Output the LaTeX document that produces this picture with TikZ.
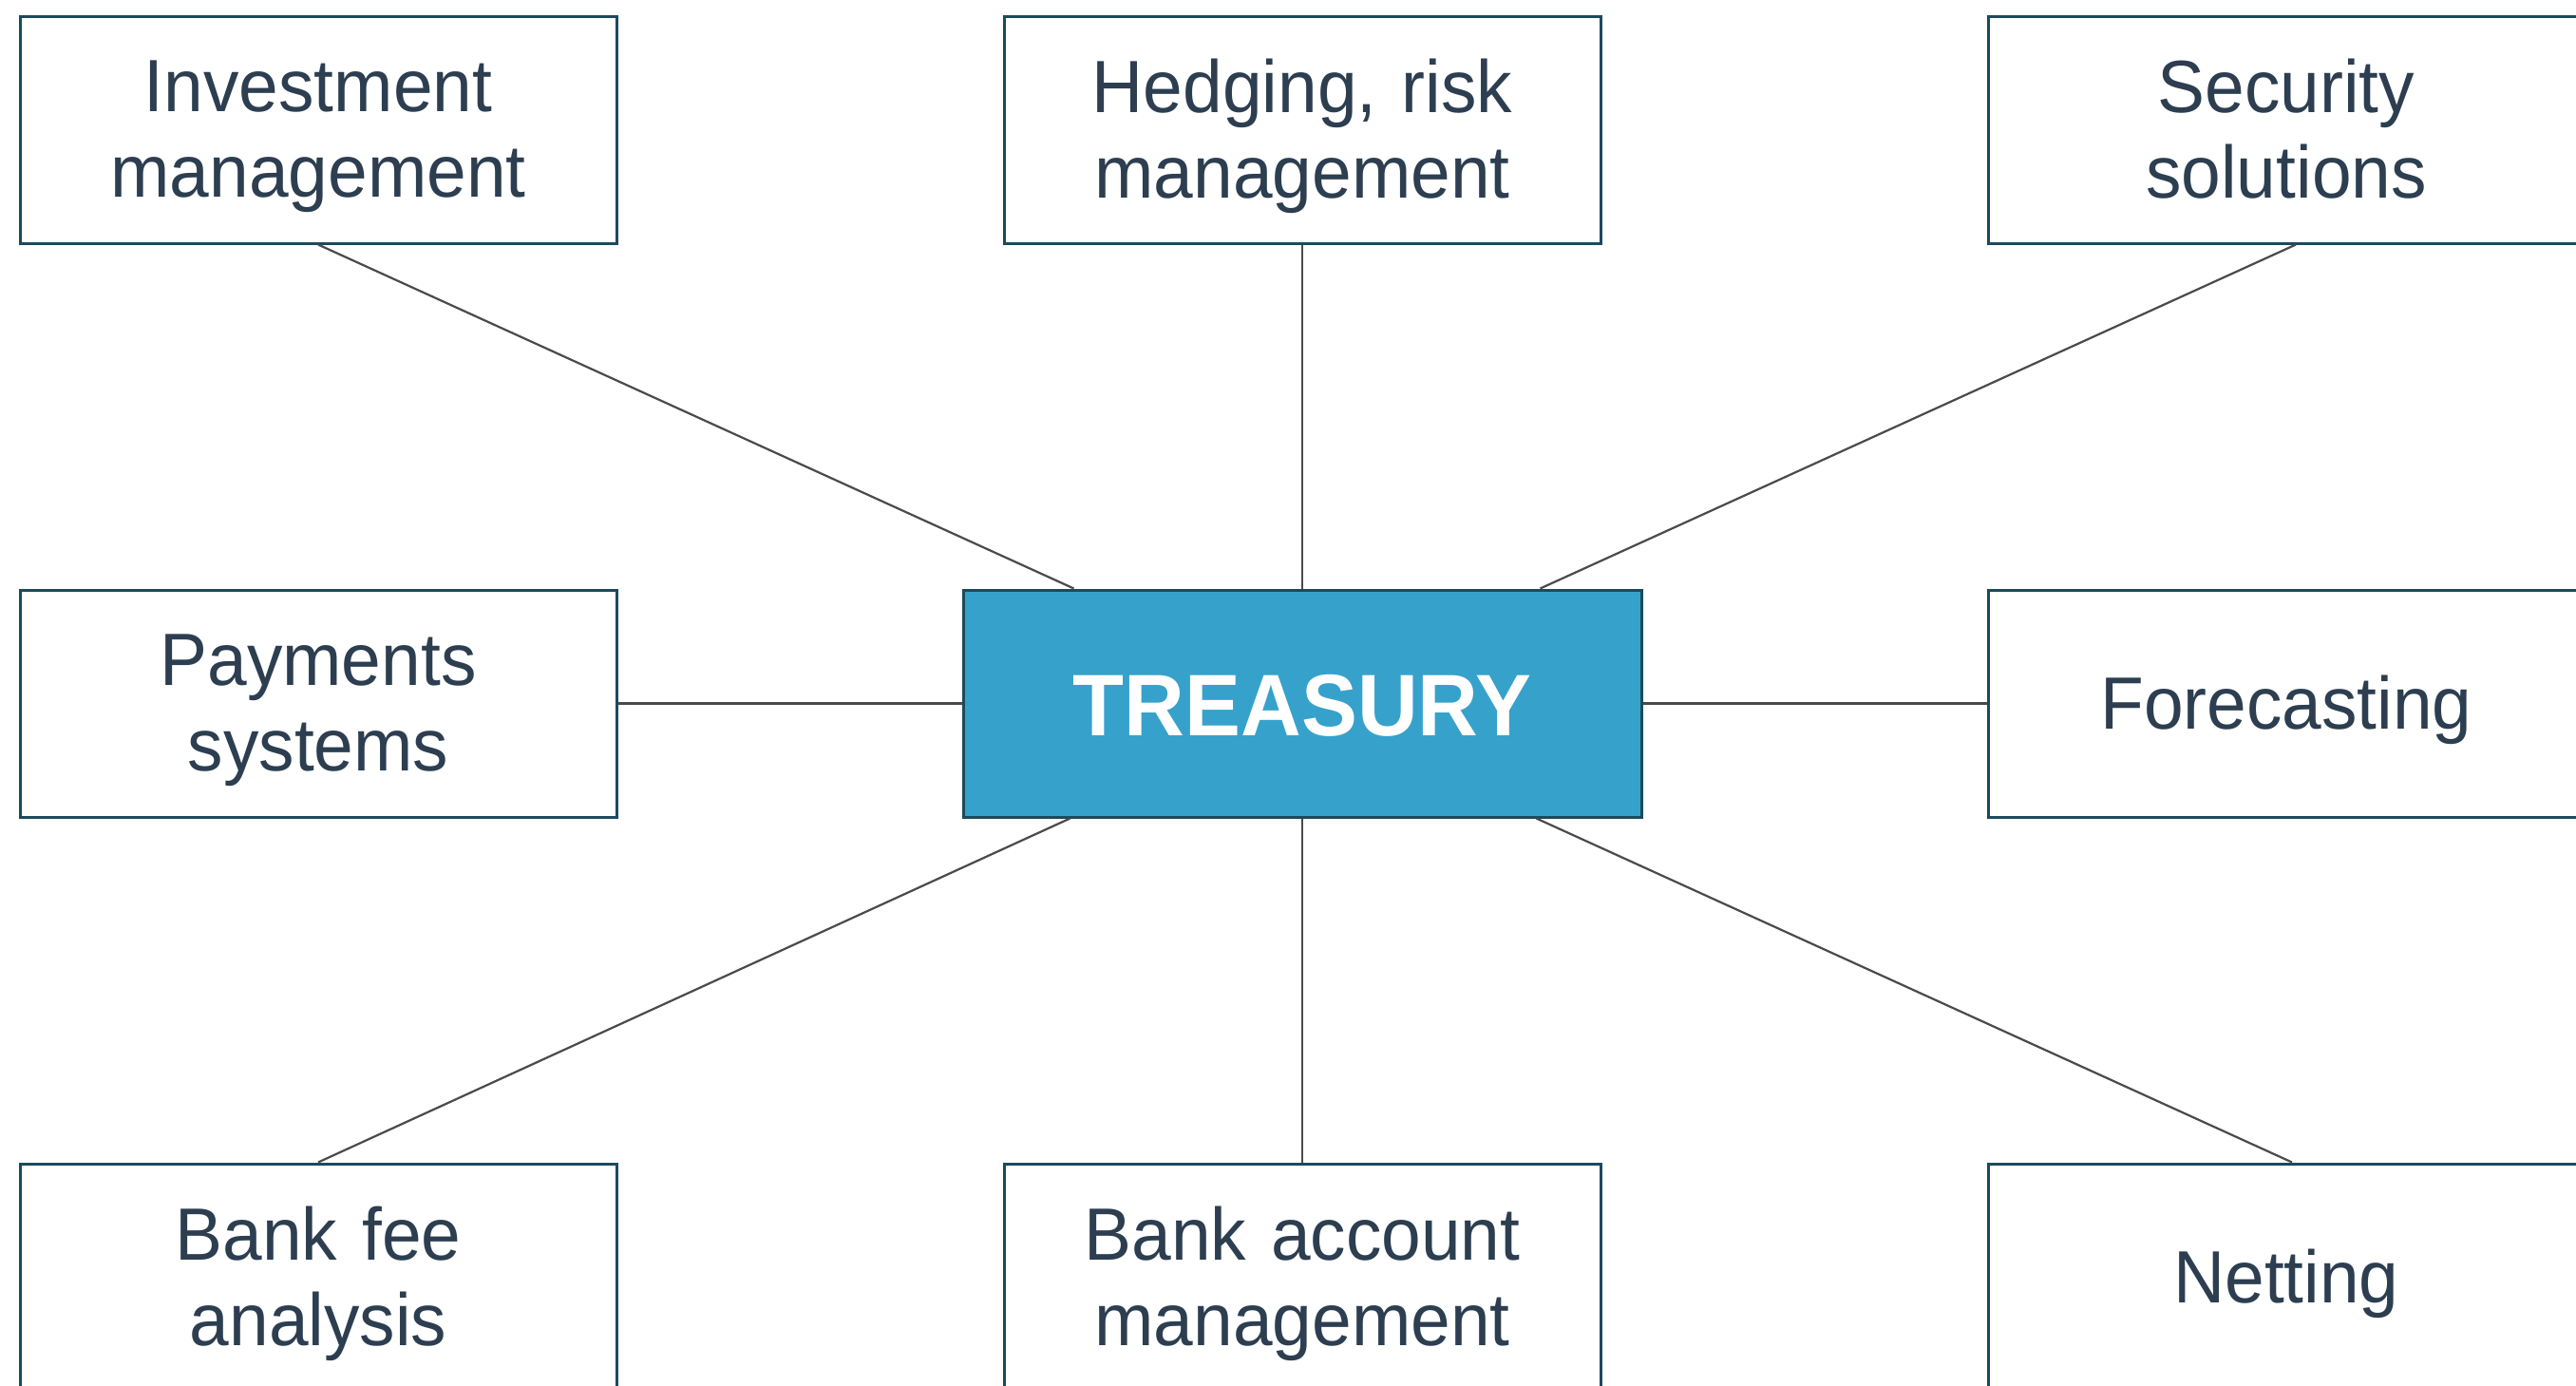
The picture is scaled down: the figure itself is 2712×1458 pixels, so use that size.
\documentclass[tikz,border=0pt]{standalone}
\usepackage{fontspec}
\setmainfont[FakeStretch=0.96]{Liberation Sans}
\definecolor{boxline}{HTML}{1C4A5C}
\definecolor{hubfill}{HTML}{36A2CB}
\definecolor{textcol}{HTML}{2C3E50}
\definecolor{linecol}{HTML}{4A4A4A}
\begin{document}
\begin{tikzpicture}[x=0.25pt,y=-0.25pt,
  box/.style={draw=boxline, line width=0.75pt, fill=white, minimum width=157pt, minimum height=59.75pt, inner sep=0pt},
  lbl/.style={inner sep=0pt, text width=150pt, align=center, font=\fontsize{19.5}{22.5}\selectfont, text=textcol},
  hub/.style={draw=boxline, line width=0.75pt, fill=hubfill, minimum width=178.5pt, minimum height=59.75pt, inner sep=0pt},
  hublbl/.style={inner sep=0pt, text=white, font=\fontsize{23}{28}\selectfont\bfseries},
  link/.style={draw=linecol, line width=0.55pt}]
\useasboundingbox (0,0) rectangle (2712,1458);
\clip (0,0) rectangle (2712,1458);
\node[hub] (hub) at (1371,740.5) {};
\node[hublbl] (hubx) at ([yshift=-0.5pt]hub.center) {TREASURY};
\node[box] (tl) at (335,136.5) {};
\node[box] (tm) at (1371,136.5) {};
\node[box] (tr) at (2407,136.5) {};
\node[box] (ml) at (335,740.5) {};
\node[box] (mr) at (2407,740.5) {};
\node[box] (bl) at (335,1344.5) {};
\node[box] (bm) at (1371,1344.5) {};
\node[box] (br) at (2407,1344.5) {};
\node[lbl] (tlx) at ([yshift=-1.75pt]tl.center) {Investment\\management};
\node[lbl] (tmx) at ([yshift=-1.75pt]tm.center) {Hedging, risk\\management};
\node[lbl] (trx) at ([yshift=-1.75pt]tr.center) {Security\\solutions\vphantom{g}};
\node[lbl] (mlx) at ([yshift=-1.75pt]ml.center) {Payments\\systems};
\node[lbl] (mrx) at ([yshift=-1.75pt]mr.center) {Forecasting};
\node[lbl] (blx) at ([yshift=-1.75pt]bl.center) {Bank fee\\analysis};
\node[lbl] (bmx) at ([yshift=-1.75pt]bm.center) {Bank account\\management};
\node[lbl] (brx) at ([yshift=-1.75pt]br.center) {Netting};
\draw[link] (tl.south) -- ([xshift=29.5pt]hub.north west);
\draw[link] (tm.south) -- (hub.north);
\draw[link] ([xshift=2.5pt]tr.south) -- ([xshift=-27pt]hub.north east);
\draw[link] (ml.east) -- (hub.west);
\draw[link] (hub.east) -- (mr.west);
\draw[link] (bl.north) -- ([xshift=28.5pt]hub.south west);
\draw[link] (hub.south) -- (bm.north);
\draw[link] ([xshift=1.5pt]br.north) -- ([xshift=-28pt]hub.south east);
\end{tikzpicture}
\end{document}
